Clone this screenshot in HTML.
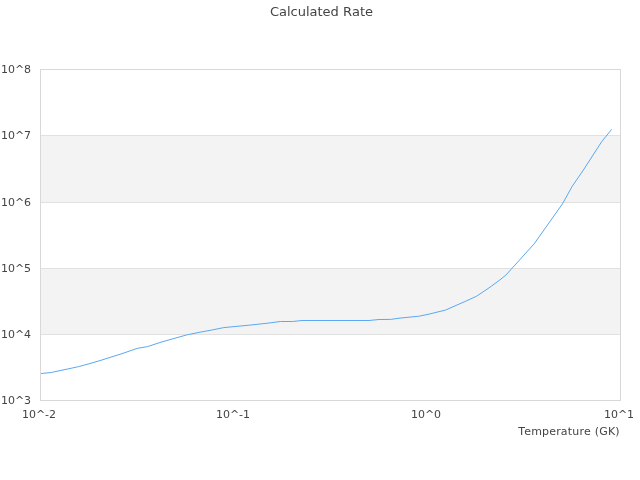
<!DOCTYPE html>
<html lang="en">
<head>
<meta charset="utf-8">
<title>Calculated Rate</title>
<style>
html,body{margin:0;padding:0;background:#fff;}
body{width:640px;height:480px;overflow:hidden;}
svg{display:block;}
text{font-family:"DejaVu Sans","Liberation Sans",sans-serif;fill:#444;font-kerning:none;}
.t{font-size:13px;}
.a{font-size:11px;}
</style>
</head>
<body>
<svg width="640" height="480" viewBox="0 0 640 480">
<rect x="0" y="0" width="640" height="480" fill="#ffffff"/>
<g shape-rendering="crispEdges">
<rect x="41" y="136" width="579" height="66" fill="#f3f3f3"/>
<rect x="41" y="269" width="579" height="65" fill="#f3f3f3"/>
<g fill="#d8d8d8">
<rect x="40" y="69" width="581" height="1"/>
<rect x="41" y="135" width="579" height="1" fill="#e1e1e1"/>
<rect x="41" y="202" width="579" height="1" fill="#e1e1e1"/>
<rect x="41" y="268" width="579" height="1" fill="#e1e1e1"/>
<rect x="41" y="334" width="579" height="1" fill="#e1e1e1"/>
<rect x="40" y="400" width="581" height="1"/>
<rect x="40" y="69" width="1" height="332"/>
<rect x="620" y="69" width="1" height="332"/>
</g>
</g>
<polyline fill="none" stroke="#5ca8f2" stroke-width="1" stroke-linejoin="round" points="41,373.5 51.25,372.5 60,370.6 70,368.5 78.75,366.6 90,363.5 100,360.6 110,357.4 120,354.3 137.2,348.4 147.5,346.6 160,342.5 170,339.6 180,336.8 187.2,334.8 200,332.2 212.5,329.9 223.75,327.6 250,325.1 270,322.9 280.3,321.5 292.5,321.5 302,320.5 369,320.5 379,319.5 390.6,319.4 400,318.1 410,317.1 418.75,316.25 430,313.9 445.4,310.1 465.3,301.4 476.6,296.2 490,287.2 500,279.8 505.9,275.1 534.1,243.9 562.5,203.8 572.2,186.3 583.4,170 601.6,141.8 611.6,129.4"/>
<text class="t" x="321.5" y="16" text-anchor="middle">Calculated Rate</text>
<g class="a">
<text x="1" y="73">10^<tspan dx="-0.3">8</tspan></text>
<text x="1" y="139">10^<tspan dx="-0.3">7</tspan></text>
<text x="1" y="206">10^<tspan dx="-0.3">6</tspan></text>
<text x="1" y="272">10^<tspan dx="-0.3">5</tspan></text>
<text x="1" y="338">10^<tspan dx="-0.3">4</tspan></text>
<text x="1" y="404">10^<tspan dx="-0.3">3</tspan></text>
<text x="39" y="418" text-anchor="middle">10^-2</text>
<text x="233" y="418" text-anchor="middle">10^-1</text>
<text x="426" y="418" text-anchor="middle">10^0</text>
<text x="619" y="418" text-anchor="middle">10^1</text>
<text x="518.3" y="435" letter-spacing="0.18">T<tspan x="524.2">emperature (GK)</tspan></text>
</g>
</svg>
</body>
</html>
